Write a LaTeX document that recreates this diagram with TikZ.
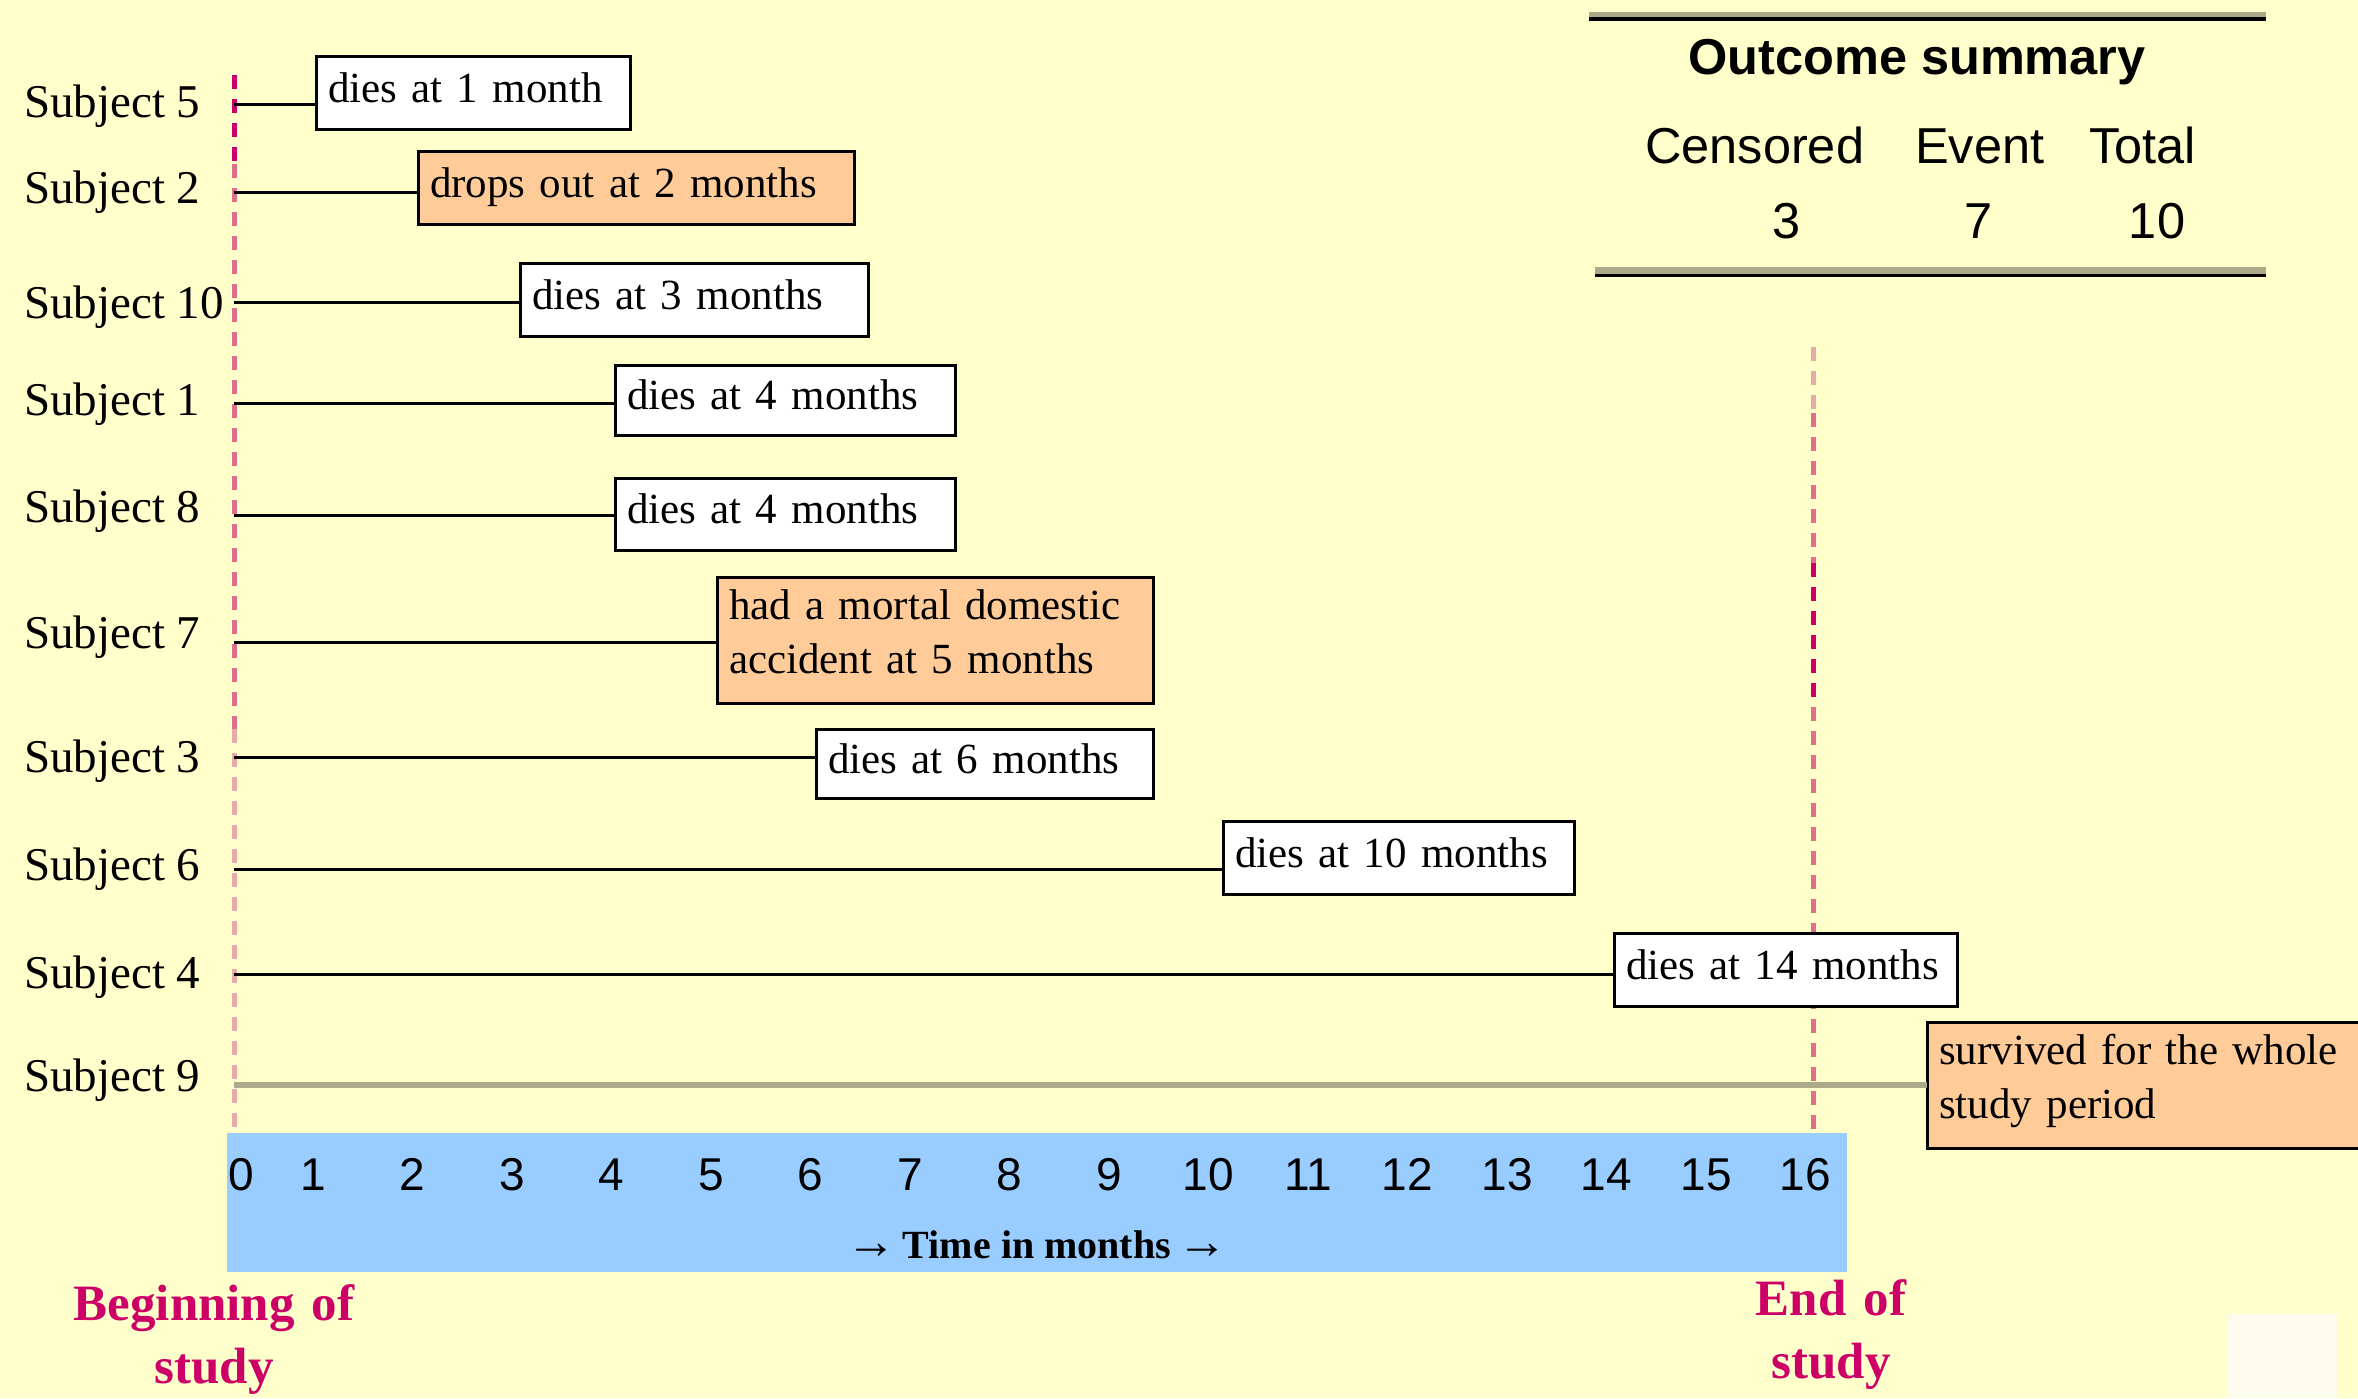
\documentclass[tikz,border=0pt]{standalone}
\usepackage{fontspec}
\setmainfont{Liberation Serif}
\newfontfamily\arial{Liberation Sans}

\definecolor{paper}{RGB}{255,255,204}
\definecolor{cornerwhite}{RGB}{252,252,238}
\definecolor{axisblue}{RGB}{153,204,255}
\definecolor{peach}{RGB}{255,204,153}
\definecolor{studyred}{RGB}{204,0,102}
\definecolor{dashmid}{RGB}{221,112,140}
\definecolor{dashlight}{RGB}{232,170,168}
\definecolor{olive}{RGB}{170,170,138}

\begin{document}
\begin{tikzpicture}[x=1pt, y=-1pt]
    \tikzstyle{subject} = [anchor=base west, inner sep=0pt, font=\fontsize{47}{56}\selectfont]
    \tikzstyle{event} = [draw, line width=3pt, fill=white, anchor=north west, outer sep=0pt, inner xsep=12pt, inner ysep=0pt, text width=#1, align=left, minimum height=73pt, text height=30pt, text depth=11pt, font=\fontsize{43}{54}\selectfont]
    \tikzstyle{censor} = [fill=peach]
    \tikzstyle{tall} = [minimum height=126pt, text depth=72pt]
    \tikzstyle{lifeline} = [line width=3pt]
    \tikzstyle{studyline} = [line width=5pt, dash pattern=on 14pt off 10pt, color={#1}]
    \tikzstyle{rule} = [line width=#1]
    \tikzstyle{month} = [anchor=base, inner sep=0pt, font=\arial\fontsize{46}{55}\selectfont]
    \tikzstyle{colhead} = [anchor=base west, inner sep=0pt, font=\arial\fontsize{50.5}{60}\selectfont]
    \tikzstyle{tally} = [anchor=base, inner sep=0pt, font=\arial\fontsize{50.5}{60}\selectfont]
    \tikzstyle{studylabel} = [anchor=base, inner sep=0pt, text width=340pt, align=center, text=studyred, font=\bfseries\fontsize{51}{63}\selectfont]

    \useasboundingbox (0,0) rectangle (2358,1398);
    \clip (0,0) rectangle (2358,1398);
    \fill[paper] (0,0) rectangle (2358,1398);
    \fill[cornerwhite] (2228,1314) rectangle (2337,1398);

    % outcome summary
    \draw[rule=5pt, olive] (1589,14.5) -- (2266,14.5);
    \draw[rule=4pt] (1589,19) -- (2266,19);
    \draw[rule=7pt, olive] (1595,270.5) -- (2266,270.5);
    \draw[rule=3.5pt] (1595,275.5) -- (2266,275.5);
    \node[anchor=base, inner sep=0pt, font=\arial\bfseries\fontsize{50.5}{60}\selectfont] (summary) at (1917,74) {Outcome summary};
    \node[colhead] (hcens) at (1645,163) {Censored};
    \node[colhead] (hevent) at (1915,163) {Event};
    \node[colhead] (htotal) at (2089,163) {Total};
    \node[tally] (ncens) at (1787,238) {3};
    \node[tally] (nevent) at (1979,238) {7};
    \node[tally] (ntotal) at (2157,238) {10};

    % time axis
    \fill[axisblue] (227,1133) rectangle (1847,1272);
    \node[month] (m0) at (241,1190) {0};
    \foreach \k in {1,...,16}
        \node[month] (m\k) at ({313+99.5*(\k-1)},1190) {\k};
    \node[anchor=base, inner sep=0pt, font=\bfseries\fontsize{40}{48}\selectfont] (time) at (1037,1258) {{\fontsize{50}{50}\selectfont →}\,Time in months\,{\fontsize{50}{50}\selectfont →}};
    \node[studylabel] (begin) at (214,1320) {Beginning of\\study};
    \node[studylabel] (finish) at (1831,1315) {End of\\study};

    % study limits
    \draw[studyline=studyred] (234,75) -- (234,164);
    \draw[studyline=dashmid] (234,164) -- (234,729);
    \draw[studyline=dashlight] (234,729) -- (234,1133);
    \draw[studyline=dashlight] (1813,347) -- (1813,413);
    \draw[studyline=dashmid] (1813,413) -- (1813,563);
    \draw[studyline=studyred] (1813,563) -- (1813,707);
    \draw[studyline=dashmid] (1813,707) -- (1813,1133);

    \foreach \s/\b/\l in {5/117/104, 2/203/192, 10/318/302, 1/415/403, 8/522/515, 7/648/642, 3/772/757, 6/880/869, 4/988/974, 9/1091/1085} {
        \node[subject] (sub\s) at (24,\b) {Subject \s};
        \coordinate (st\s) at (234,\l);
    }

    \node[event=290pt] (ev5) at (316,56) {dies at 1 month};
    \node[event=412pt, censor] (ev2) at (418,151) {drops out at 2 months};
    \node[event=324pt] (ev10) at (520,263) {dies at 3 months};
    \node[event=316pt, minimum height=70pt] (ev1) at (615,365) {dies at 4 months};
    \node[event=316pt, minimum height=72pt] (ev8) at (615,478) {dies at 4 months};
    \node[event=412pt, censor, tall] (ev7) at (717,577) {had a mortal domestic\\accident at 5 months};
    \node[event=313pt, minimum height=69pt] (ev3) at (816,729) {dies at 6 months};
    \node[event=327pt] (ev6) at (1223,821) {dies at 10 months};
    \node[event=319pt] (ev4) at (1614,933) {dies at 14 months};
    \node[event=439pt, censor, tall] (ev9) at (1927,1022) {survived for the whole\\study period};

    \foreach \s in {5,2,10,1,8,7,3,6,4}
        \draw[lifeline] (st\s) -- (st\s -| ev\s.west);
    \draw[lifeline, olive, line width=6pt] (st9) -- (st9 -| ev9.west);
\end{tikzpicture}
\end{document}
